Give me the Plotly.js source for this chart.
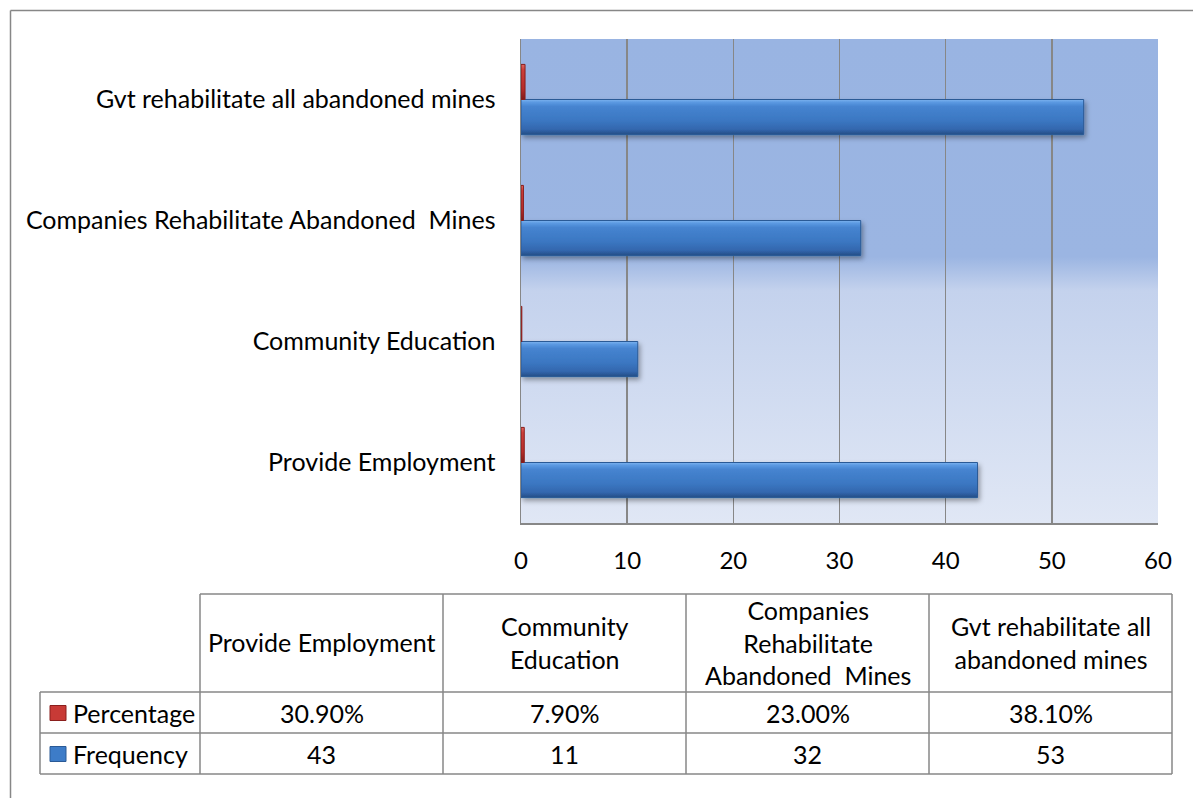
<!DOCTYPE html>
<html>
<head>
<meta charset="utf-8">
<script src="https://cdn.plot.ly/plotly-3.0.1.min.js"></script>
<style>
  html, body { margin: 0; padding: 0; background: #ffffff; }
  #chart { width: 1193px; height: 798px; }
</style>
</head>
<body>
<div id="chart"></div>
<script>
// Survey responses: suggested remedies for abandoned mines
const categories = [
  'Provide Employment',
  'Community Education',
  'Companies Rehabilitate Abandoned\u00a0 Mines',
  'Gvt rehabilitate all abandoned mines'
];
const headerLabels = [
  'Provide Employment',
  'Community<br>Education',
  'Companies<br>Rehabilitate<br>Abandoned\u00a0 Mines',
  'Gvt rehabilitate all<br>abandoned mines'
];
const frequency = [43, 11, 32, 53];
const percentage = [0.309, 0.079, 0.230, 0.381];
const seriesNames = ['Percentage', 'Frequency'];
const xTicks = [0, 10, 20, 30, 40, 50, 60];

// page geometry
const W = 1193, H = 798;
const M = { l: 521, r: 35, t: 39, b: 275 };
const PW = W - M.l - M.r, PH = H - M.t - M.b;
const fx = px => (px - M.l) / PW;
const fy = py => (H - M.b - py) / PH;

const FONT = 'Lato, "Open Sans", sans-serif';
const FS = 25;
const GRID = '#878787';

const traces = [
  {
    type: 'bar', orientation: 'h', name: seriesNames[1],
    y: categories, x: frequency,
    marker: { color: '#3a77c2', line: { color: '#2a5a96', width: 1 } },
    hoverinfo: 'x+y'
  },
  {
    type: 'bar', orientation: 'h', name: seriesNames[0],
    y: categories, x: percentage,
    marker: { color: '#c0312e', line: { color: '#8a1f1d', width: 1 } },
    hoverinfo: 'x+y'
  }
];

// plot area fill: deep blue upper half fading to pale blue
const bgSvg =
  '<svg xmlns="http://www.w3.org/2000/svg" width="100" height="100" preserveAspectRatio="none">' +
  '<defs><linearGradient id="g" x1="0" y1="0" x2="0" y2="1">' +
  '<stop offset="0" stop-color="#99b4e2"/>' +
  '<stop offset="0.45" stop-color="#9bb5e2"/>' +
  '<stop offset="0.52" stop-color="#c4d2ed"/>' +
  '<stop offset="1" stop-color="#e0e7f5"/>' +
  '</linearGradient></defs><rect width="100" height="100" fill="url(#g)"/></svg>';

// data table below the axis
const colEdges = [200, 443, 686, 929, 1172];
const rowEdges = [594, 692, 733, 774];
const tableLeft = 40;
const shapes = [];
const annotations = [];
const lineStyle = { color: GRID, width: 1.5 };

function hLine(x0, x1, y) {
  shapes.push({ type: 'line', xref: 'paper', yref: 'paper', x0: fx(x0), x1: fx(x1), y0: fy(y), y1: fy(y), line: lineStyle });
}
function vLine(x, y0, y1) {
  shapes.push({ type: 'line', xref: 'paper', yref: 'paper', x0: fx(x), x1: fx(x), y0: fy(y0), y1: fy(y1), line: lineStyle });
}

// outer chart frame (top and left edges)
hLine(10.5, W + 5, 10.5);
vLine(10.5, 10.5, H + 5);

hLine(colEdges[0], colEdges[4], rowEdges[0]);
for (let i = 1; i < rowEdges.length; i++) hLine(tableLeft, colEdges[4], rowEdges[i]);
colEdges.forEach(x => vLine(x, rowEdges[0], rowEdges[3]));
vLine(tableLeft, rowEdges[1], rowEdges[3]);

function text(str, x, y, anchor) {
  annotations.push({
    text: str, xref: 'paper', yref: 'paper', x: fx(x), y: fy(y),
    xanchor: anchor || 'center', yanchor: 'middle', showarrow: false,
    font: { family: FONT, size: FS, color: '#000000' }
  });
}

const rowMid = i => (rowEdges[i] + rowEdges[i + 1]) / 2;
for (let c = 0; c < categories.length; c++) {
  const cx = (colEdges[c] + colEdges[c + 1]) / 2;
  text(headerLabels[c], cx, rowMid(0) - 1);
  text((percentage[c] * 100).toFixed(2) + '%', cx, rowMid(1));
  text(String(frequency[c]), cx, rowMid(2));
}

// series keys with their names
const keyColors = [['#c83a36', '#8a1f1d'], ['#3d7cc8', '#2a5a96']];
for (let r = 0; r < 2; r++) {
  const cy = rowMid(r + 1);
  shapes.push({
    type: 'rect', xref: 'paper', yref: 'paper',
    x0: fx(50), x1: fx(66), y0: fy(cy - 7), y1: fy(cy + 8),
    fillcolor: keyColors[r][0], line: { color: keyColors[r][1], width: 1 }
  });
  text(seriesNames[r], 71, cy, 'left');
}

const layout = {
  width: W, height: H,
  margin: M,
  paper_bgcolor: '#ffffff',
  plot_bgcolor: 'rgba(0,0,0,0)',
  showlegend: false,
  barmode: 'group',
  bargap: 0.42,
  bargroupgap: 0,
  font: { family: FONT, size: FS, color: '#000000' },
  xaxis: {
    range: [0, 60], tickvals: xTicks, ticktext: xTicks.map(String),
    showgrid: true, gridcolor: GRID, gridwidth: 1.5,
    showline: true, linecolor: GRID, linewidth: 1.5,
    zeroline: false, ticks: '', ticklabelstandoff: 16,
    tickfont: { family: FONT, size: 24, color: '#000000' },
    fixedrange: true
  },
  yaxis: {
    type: 'category', categoryorder: 'array', categoryarray: categories,
    showgrid: false, showline: true, linecolor: GRID, linewidth: 1.5,
    zeroline: false, ticks: '', ticklabelstandoff: 19,
    tickfont: { family: FONT, size: FS, color: '#000000' },
    fixedrange: true
  },
  images: [{
    source: 'data:image/svg+xml;charset=utf-8,' + encodeURIComponent(bgSvg),
    xref: 'x domain', yref: 'y domain', x: 0, y: 1, sizex: 1, sizey: 1,
    xanchor: 'left', yanchor: 'top', sizing: 'stretch', layer: 'below'
  }],
  shapes: shapes,
  annotations: annotations
};

// give the bars a rounded, bevelled look with a soft shadow underneath
function bevelBars(gd) {
  const NS = 'http://www.w3.org/2000/svg';
  const svg = gd.querySelector('svg.main-svg');
  let defs = svg.querySelector('defs');
  if (!defs) { defs = document.createElementNS(NS, 'defs'); svg.insertBefore(defs, svg.firstChild); }

  function grad(id, stops) {
    const g = document.createElementNS(NS, 'linearGradient');
    g.setAttribute('id', id);
    g.setAttribute('x1', '0'); g.setAttribute('y1', '0');
    g.setAttribute('x2', '0'); g.setAttribute('y2', '1');
    stops.forEach(([o, c]) => {
      const s = document.createElementNS(NS, 'stop');
      s.setAttribute('offset', o); s.setAttribute('stop-color', c);
      g.appendChild(s);
    });
    defs.appendChild(g);
  }
  grad('barBlue', [[0, '#7db3ef'], [0.08, '#5b99e2'], [0.2, '#4684d0'], [0.6, '#3b77c2'], [0.85, '#3367ae'], [1, '#234d85']]);
  grad('barRed', [[0, '#e06a64'], [0.15, '#cc3f3a'], [0.7, '#b52d2a'], [1, '#7e1b19']]);

  const f = document.createElementNS(NS, 'filter');
  f.setAttribute('id', 'barShadow');
  f.setAttribute('x', '-5%'); f.setAttribute('y', '-20%');
  f.setAttribute('width', '115%'); f.setAttribute('height', '160%');
  const ds = document.createElementNS(NS, 'feDropShadow');
  ds.setAttribute('dx', '2'); ds.setAttribute('dy', '3');
  ds.setAttribute('stdDeviation', '2.5');
  ds.setAttribute('flood-color', '#000000'); ds.setAttribute('flood-opacity', '0.35');
  f.appendChild(ds);
  defs.appendChild(f);

  const groups = gd.querySelectorAll('.barlayer .trace.bars');
  groups.forEach((g, i) => {
    const id = i === 0 ? 'barBlue' : 'barRed';
    g.querySelectorAll('.point path').forEach(p => {
      p.style.fill = 'url(#' + id + ')';
      if (i === 0) p.setAttribute('filter', 'url(#barShadow)');
    });
  });
}

Plotly.newPlot('chart', traces, layout, { displayModeBar: false, staticPlot: true })
  .then(bevelBars);
</script>
</body>
</html>
